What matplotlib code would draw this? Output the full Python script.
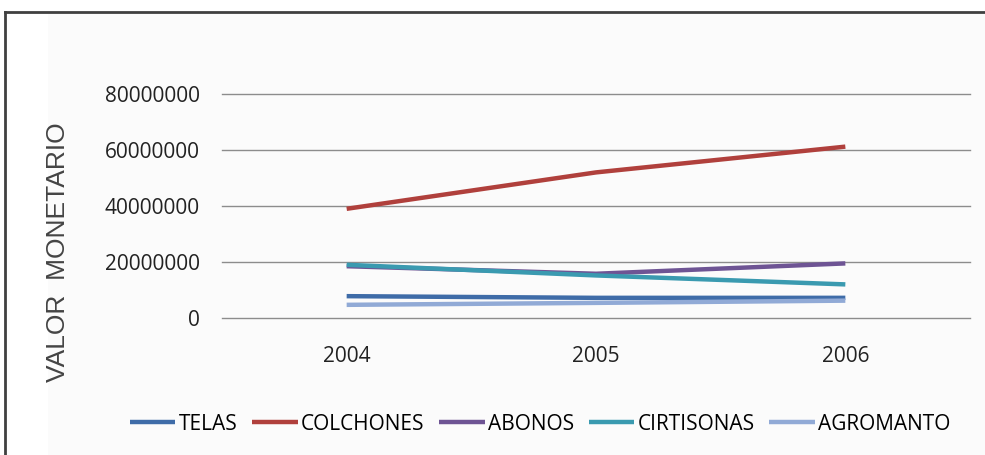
import matplotlib.pyplot as plt
from matplotlib.patches import Rectangle
from matplotlib.lines import Line2D

# datos
years = ['2004', '2005', '2006']
telas = [7800000, 7200000, 7200000]
colchones = [39000000, 52000000, 61200000]
abonos = [18500000, 15800000, 19500000]
cirtisonas = [19000000, 15200000, 12000000]
agromanto = [4700000, 5400000, 6200000]

series = [('TELAS', telas, '#3F6CA8'),
          ('COLCHONES', colchones, '#B0403C'),
          ('ABONOS', abonos, '#6E5494'),
          ('CIRTISONAS', cirtisonas, '#3A9AB0'),
          ('AGROMANTO', agromanto, '#91AAD6')]

plt.rcParams['font.family'] = ['Open Sans', 'DejaVu Sans']

fig = plt.figure(figsize=(9.85, 4.55), dpi=100)
fig.patch.set_facecolor('white')

# fondo y marco
fig.add_artist(Rectangle((48 / 985, 0), 1, 1 - 12 / 455, transform=fig.transFigure,
                         facecolor='#fbfbfb', edgecolor='none', zorder=-5))
fig.add_artist(Line2D([5 / 985, 1], [1 - 12 / 455, 1 - 12 / 455], transform=fig.transFigure,
                      color='#404040', linewidth=2, zorder=-4))
fig.add_artist(Line2D([5 / 985, 5 / 985], [0, 1 - 12 / 455], transform=fig.transFigure,
                      color='#404040', linewidth=2, zorder=-4))

ax = fig.add_axes([222 / 985, 1 - 318 / 455, 748 / 985, 224 / 455])
ax.set_facecolor('none')

x = list(range(len(years)))
for name, vals, color in series:
    ax.plot(x, vals, color=color, linewidth=3.2, solid_capstyle='butt', label=name)

ax.set_xlim(-0.5, 2.5)
ax.set_ylim(0, 80000000)
ax.set_yticks([0, 20000000, 40000000, 60000000, 80000000])
ax.set_yticklabels(['0', '20000000', '40000000', '60000000', '80000000'])
ax.set_xticks(x)
ax.set_xticklabels(years)
ax.grid(axis='y', color='#8c8c8c', linewidth=1)
for gl in ax.get_ygridlines():
    gl.set_clip_on(False)
ax.set_axisbelow(True)
for s in ax.spines.values():
    s.set_visible(False)
ax.tick_params(axis='both', length=0, labelsize=15, colors='#222222')
ax.tick_params(axis='y', pad=16)
ax.tick_params(axis='x', pad=20)
ax.set_ylabel('VALOR  MONETARIO', family='Liberation Sans', fontsize=19, color='#444444')
ax.yaxis.set_label_coords((70 - 222) / 748, (318 - 252) / 224)

leg = fig.legend(loc='center', bbox_to_anchor=(540 / 985, 1 - 424 / 455), ncol=5, frameon=False,
                 handlelength=2.2, handletextpad=0.15, columnspacing=0.7,
                 prop={'size': 15})

plt.savefig('out.png', dpi=100)
